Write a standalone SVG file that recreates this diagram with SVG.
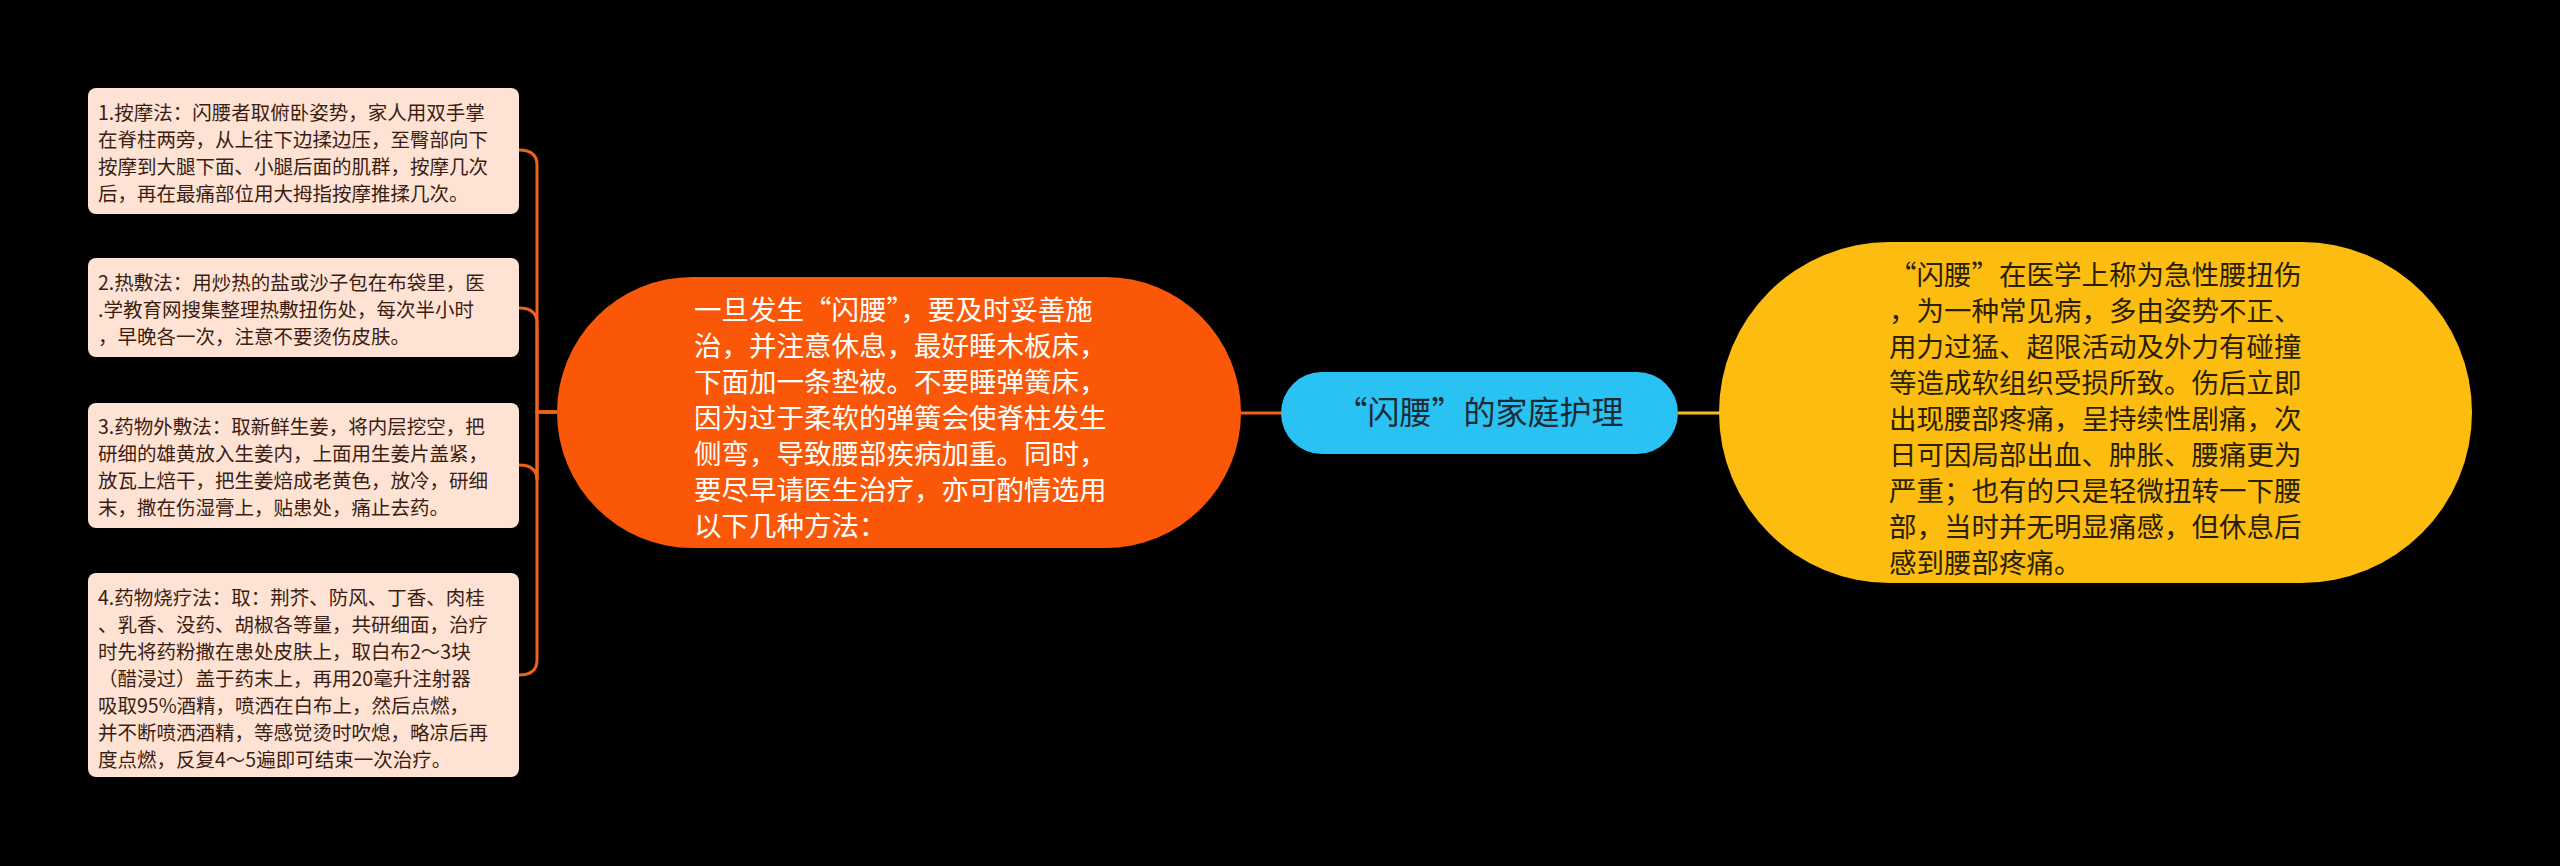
<svg xmlns="http://www.w3.org/2000/svg" width="2560" height="866" viewBox="0 0 2560 866">
<style>
.leaf{fill:#fee3d5}
.lt{font-family:"Noto Sans CJK SC","Liberation Sans",sans-serif;font-size:19.5px;fill:#3b1d12}
.ot{font-family:"Noto Sans CJK SC","Liberation Sans",sans-serif;font-size:27.5px;fill:#ffffff}
.yt{font-family:"Noto Sans CJK SC","Liberation Sans",sans-serif;font-size:27.5px;fill:#2a1f00}
.ct{font-family:"Noto Sans CJK SC","Liberation Sans",sans-serif;font-size:32px;fill:#1c2a33}
.oc{fill:none;stroke:#f0621a;stroke-width:3}
</style>
<rect width="2560" height="866" fill="#000"/>
<g id="connectors">
<path class="oc" d="M557,412 H537 V165 Q537,150 519,150"/>
<path class="oc" d="M557,412 H537 V323 Q537,308 519,308"/>
<path class="oc" d="M557,412 H537 V480 Q537,465 519,465"/>
<path class="oc" d="M557,412 H537 V660 Q537,675 519,675"/>
<path class="oc" d="M1241,413 H1282"/>
<path fill="none" stroke="#f7bd12" stroke-width="3" d="M1678,413 H1720"/>
</g>
<g id="root">
<rect x="1281" y="372" width="397" height="82" rx="41" fill="#29c2f2"/>
<text class="ct" x="1479.5" y="424" text-anchor="middle">“闪腰”的家庭护理</text>
</g>
<g id="left-main">
<rect x="557" y="277" width="684" height="271" rx="135.5" fill="#fa5808"/>
<text class="ot"><tspan x="694" y="320">一旦发生“闪腰”，要及时妥善施</tspan><tspan x="694" y="356">治，并注意休息，最好睡木板床，</tspan><tspan x="694" y="392">下面加一条垫被。不要睡弹簧床，</tspan><tspan x="694" y="428">因为过于柔软的弹簧会使脊柱发生</tspan><tspan x="694" y="464">侧弯，导致腰部疾病加重。同时，</tspan><tspan x="694" y="500">要尽早请医生治疗，亦可酌情选用</tspan><tspan x="694" y="536">以下几种方法：</tspan></text>
</g>
<g id="right-main">
<rect x="1719" y="242" width="753" height="341" rx="170.5" fill="#fdbc10"/>
<text class="yt"><tspan x="1889" y="285">“闪腰”在医学上称为急性腰扭伤</tspan><tspan x="1889" y="321">，为一种常见病，多由姿势不正、</tspan><tspan x="1889" y="357">用力过猛、超限活动及外力有碰撞</tspan><tspan x="1889" y="393">等造成软组织受损所致。伤后立即</tspan><tspan x="1889" y="429">出现腰部疼痛，呈持续性剧痛，次</tspan><tspan x="1889" y="465">日可因局部出血、肿胀、腰痛更为</tspan><tspan x="1889" y="501">严重；也有的只是轻微扭转一下腰</tspan><tspan x="1889" y="537">部，当时并无明显痛感，但休息后</tspan><tspan x="1889" y="573">感到腰部疼痛。</tspan></text>
</g>
<g id="leaf1">
<rect class="leaf" x="88" y="88" width="431" height="126" rx="8"/>
<text class="lt"><tspan x="98" y="120">1.按摩法：闪腰者取俯卧姿势，家人用双手掌</tspan><tspan x="98" y="147">在脊柱两旁，从上往下边揉边压，至臀部向下</tspan><tspan x="98" y="174">按摩到大腿下面、小腿后面的肌群，按摩几次</tspan><tspan x="98" y="201">后，再在最痛部位用大拇指按摩推揉几次。</tspan></text>
</g>
<g id="leaf2">
<rect class="leaf" x="88" y="258" width="431" height="99" rx="8"/>
<text class="lt"><tspan x="98" y="290">2.热敷法：用炒热的盐或沙子包在布袋里，医</tspan><tspan x="98" y="317">.学教育网搜集整理热敷扭伤处，每次半小时</tspan><tspan x="98" y="344">，早晚各一次，注意不要烫伤皮肤。</tspan></text>
</g>
<g id="leaf3">
<rect class="leaf" x="88" y="403" width="431" height="125" rx="8"/>
<text class="lt"><tspan x="98" y="434">3.药物外敷法：取新鲜生姜，将内层挖空，把</tspan><tspan x="98" y="461">研细的雄黄放入生姜内，上面用生姜片盖紧，</tspan><tspan x="98" y="488">放瓦上焙干，把生姜焙成老黄色，放冷，研细</tspan><tspan x="98" y="515">末，撒在伤湿膏上，贴患处，痛止去药。</tspan></text>
</g>
<g id="leaf4">
<rect class="leaf" x="88" y="573" width="431" height="204" rx="8"/>
<text class="lt"><tspan x="98" y="605">4.药物烧疗法：取：荆芥、防风、丁香、肉桂</tspan><tspan x="98" y="632">、乳香、没药、胡椒各等量，共研细面，治疗</tspan><tspan x="98" y="659">时先将药粉撒在患处皮肤上，取白布2～3块</tspan><tspan x="98" y="686">（醋浸过）盖于药末上，再用20毫升注射器</tspan><tspan x="98" y="713">吸取95%酒精，喷洒在白布上，然后点燃，</tspan><tspan x="98" y="740">并不断喷洒酒精，等感觉烫时吹熄，略凉后再</tspan><tspan x="98" y="767">度点燃，反复4～5遍即可结束一次治疗。</tspan></text>
</g>
</svg>
